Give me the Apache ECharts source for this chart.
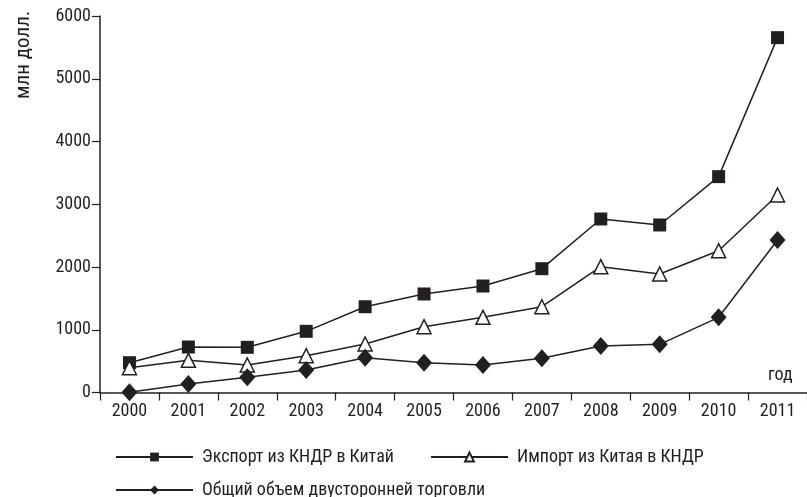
<!DOCTYPE html>
<html>
<head>
<meta charset="utf-8">
<script src="https://cdn.jsdelivr.net/npm/echarts@6/dist/echarts.min.js"></script>
<style>
  html, body { margin: 0; padding: 0; background: #fff; }
  #chart { width: 807px; height: 497px; }
</style>
</head>
<body>
<div id="chart"></div>
<script>
var years = ['2000', '2001', '2002', '2003', '2004', '2005', '2006', '2007', '2008', '2009', '2010', '2011']
var exportData = [475, 725, 720, 975, 1367, 1570, 1697, 1973, 2765, 2670, 3440, 5655]
var importData = [395, 513, 438, 587, 773, 1049, 1198, 1367, 2005, 1888, 2260, 3147]
var totalData = [5, 135, 242, 358, 555, 475, 438, 545, 741, 768, 1198, 2430]
var seriesNames = ['Экспорт из КНДР в Китай', 'Импорт из Китая в КНДР', 'Общий объем двусторонней торговли']

var ink = '#231f20'
var font = '"Liberation Sans Narrow", "Roboto Condensed", "Liberation Sans", sans-serif'

var chart = echarts.init(document.getElementById('chart'))

function legendAt (name, left, top) {
  return {
    data: [name],
    left: left,
    top: top,
    itemWidth: 77,
    itemHeight: 11,
    itemGap: 0,
    padding: 0,
    textStyle: { fontFamily: font, fontSize: 18, color: ink, padding: [0, 0, 0, 4] }
  }
}

var option = {
  backgroundColor: '#fff',
  animation: false,
  textStyle: { fontFamily: font },
  grid: { left: 100, right: -8, top: 16, bottom: 104.5 },
  legend: [
    legendAt(seriesNames[0], 115, 448),
    legendAt(seriesNames[1], 430, 448),
    legendAt(seriesNames[2], 115, 481)
  ],
  xAxis: {
    type: 'category',
    data: years,
    boundaryGap: true,
    axisLine: { lineStyle: { color: ink, width: 1.5 } },
    axisTick: { show: true, length: 8, lineStyle: { color: ink, width: 1.2 } },
    axisLabel: { color: ink, fontSize: 18, fontFamily: font, margin: 10 },
    splitLine: { show: false }
  },
  yAxis: {
    type: 'value',
    min: 0,
    max: 6000,
    interval: 1000,
    axisLine: { show: true, lineStyle: { color: ink, width: 1.5 } },
    axisTick: { show: true, length: 8, lineStyle: { color: ink, width: 1.2 } },
    axisLabel: { color: ink, fontSize: 18, fontFamily: font, margin: 9, formatter: function (v) { return String(v) } },
    splitLine: { show: false }
  },
  graphic: [
    {
      type: 'text',
      left: 768,
      top: 366,
      style: { text: 'год', fill: ink, font: '18px ' + font }
    },
    {
      type: 'text',
      x: 13,
      y: 99,
      rotation: Math.PI / 2,
      style: { text: 'млн долл.', fill: ink, font: '21px ' + font }
    }
  ],
  series: [
    {
      name: seriesNames[0],
      type: 'line',
      data: exportData,
      symbol: 'rect',
      symbolSize: 13,
      itemStyle: { color: ink },
      lineStyle: { color: ink, width: 1.5 }
    },
    {
      name: seriesNames[1],
      type: 'line',
      data: importData,
      symbol: 'triangle',
      symbolSize: 14,
      itemStyle: { color: '#fff', borderColor: ink, borderWidth: 1.5 },
      lineStyle: { color: ink, width: 1.5 }
    },
    {
      name: seriesNames[2],
      type: 'line',
      data: totalData,
      symbol: 'diamond',
      symbolSize: [16, 18],
      itemStyle: { color: ink },
      lineStyle: { color: ink, width: 1.5 }
    }
  ]
}

chart.setOption(option)
</script>
</body>
</html>
